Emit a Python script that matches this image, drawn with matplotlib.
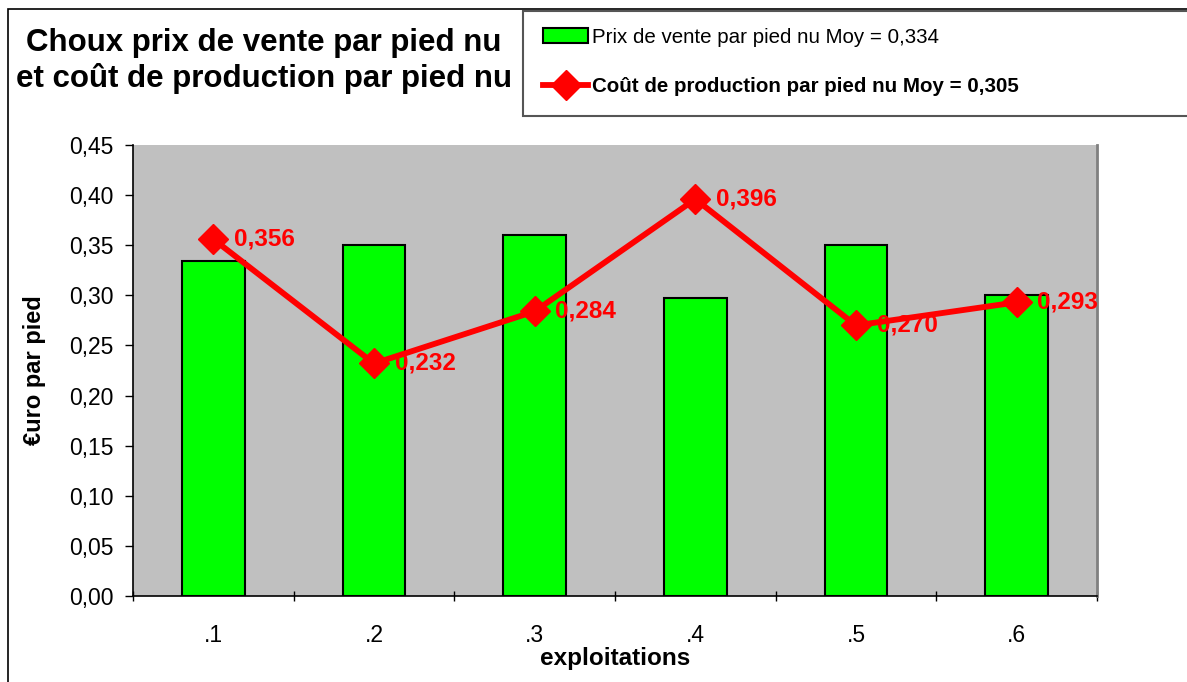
import numpy as np
import matplotlib
matplotlib.use("Agg")
import matplotlib.pyplot as plt
from matplotlib.patches import Rectangle

plt.rcParams['font.family'] = ['Liberation Sans', 'DejaVu Sans']

# data
exploitations = ['.1', '.2', '.3', '.4', '.5', '.6']
prix_vente = [0.334, 0.350, 0.360, 0.297, 0.350, 0.300]
cout_prod = [0.356, 0.232, 0.284, 0.396, 0.270, 0.293]
yticks = [0.0, 0.05, 0.10, 0.15, 0.20, 0.25, 0.30, 0.35, 0.40, 0.45]
label_prix = 'Prix de vente par pied nu Moy = 0,334'
label_cout = 'Coût de production par pied nu Moy = 0,305'

W, H = 1187, 682
fig = plt.figure(figsize=(W / 100, H / 100), dpi=100)
ax = fig.add_axes([133 / W, 1 - 596 / H, 964 / W, 451 / H])
ax.set_facecolor('#C0C0C0')

x = np.arange(len(exploitations))
bars = ax.bar(x, prix_vente, width=0.39, color='#00FF00', edgecolor='black',
              linewidth=1.5, zorder=2, label=label_prix)
line, = ax.plot(x, cout_prod, color='#FF0000', lw=4.2, marker='D', markersize=15,
                zorder=3, label=label_cout)

# value labels on the line
for xi, v in zip(x, cout_prod):
    ax.annotate(('%.3f' % v).replace('.', ','), (xi, v), xytext=(15, 0),
                textcoords='offset points', color='#FF0000', fontsize=17.5,
                fontweight='bold', va='center', ha='left', zorder=4)

ax.set_xlim(-0.5, len(exploitations) - 0.5)
ax.set_ylim(0, 0.45)
ax.set_yticks(yticks)
ax.set_yticklabels([('%.2f' % t).replace('.', ',') for t in yticks], fontsize=16.5)

# categories centred, ticks on the boundaries
ax.set_xticks(np.arange(len(exploitations) + 1) - 0.5)
ax.set_xticklabels([])
ax.set_xticks(x, minor=True)
ax.set_xticklabels(exploitations, minor=True, fontsize=16.5)
ax.tick_params(axis='x', which='minor', length=0, pad=20)
ax.tick_params(axis='x', which='major', length=7, direction='inout', width=1)
ax.tick_params(axis='y', length=6, direction='out', width=1, pad=8)

ax.spines['top'].set_visible(False)
ax.spines['right'].set_color('#808080')
ax.spines['right'].set_linewidth(2)
ax.spines['left'].set_linewidth(1.2)
ax.spines['bottom'].set_linewidth(1.2)

fig.text(35 / W, 1 - 370 / H, '€uro par pied', rotation=90, ha='center', va='center',
         fontsize=17, fontweight='bold')
fig.text(615 / W, 1 - 658 / H, 'exploitations', ha='center', va='center',
         fontsize=17.5, fontweight='bold')

fig.text(264 / W, 1 - 61 / H, 'Choux prix de vente par pied nu\net coût de production par pied nu',
         ha='center', va='center', fontsize=22.5, fontweight='bold', linespacing=1.2)

# outer chart frame
fig.patches.append(Rectangle((8 / W, -0.05), 1.1, 1 - 9 / H + 0.05,
                             transform=fig.transFigure, fill=False,
                             edgecolor='black', lw=1.2))
# legend frame, runs off the right edge
fig.patches.append(Rectangle((523 / W, 1 - 116 / H), 1.0, 105 / H,
                             transform=fig.transFigure, facecolor='white',
                             edgecolor='#555555', lw=1.5))

leg = fig.legend(handles=[bars, line], loc='center left',
                 bbox_to_anchor=(543 / W, 1 - 62 / H), fontsize=14.8,
                 frameon=False, handlelength=2.2, handleheight=0.75,
                 labelspacing=1.5, borderpad=0, handletextpad=0.2,
                 borderaxespad=0)
leg.get_texts()[1].set_fontweight('bold')

fig.savefig('out.png', dpi=100)
